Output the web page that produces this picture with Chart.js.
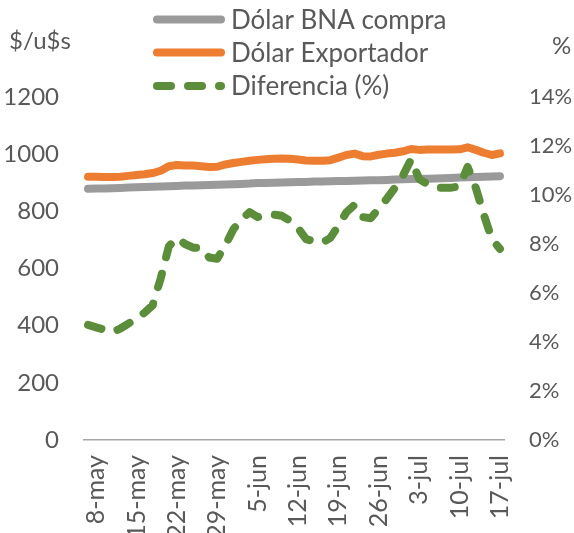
<!DOCTYPE html>
<html>
<head>
<meta charset="utf-8">
<script src="https://cdn.jsdelivr.net/npm/chart.js@4"></script>
<style>
  body { margin: 0; background: #fff; }
  canvas { display: block; }
</style>
</head>
<body>
<canvas id="chart" width="574" height="533"></canvas>
<script>
const dates = ['7-may','8-may','9-may','10-may','13-may','14-may','15-may','16-may','17-may','20-may','21-may','22-may','23-may','24-may','27-may','28-may','29-may','30-may','31-may',
  '3-jun','4-jun','5-jun','6-jun','7-jun','10-jun','11-jun','12-jun','13-jun','14-jun','17-jun','18-jun','19-jun','20-jun','21-jun','24-jun','25-jun','26-jun','27-jun','28-jun',
  '1-jul','2-jul','3-jul','4-jul','5-jul','8-jul','9-jul','10-jul','11-jul','12-jul','15-jul','16-jul','17-jul'];

const tickLabels = ['8-may','15-may','22-may','29-may','5-jun','12-jun','19-jun','26-jun','3-jul','10-jul','17-jul'];

const bnaCompra = [879,880,880,881,882,883,884,885,886,887,888,889,890,890,891,892,893,894,895,
  896,897,899,899,900,901,902,903,903,904,904,905,906,906,907,908,909,909,910,911,
  912,913,914,914,915,916,917,918,919,920,921,922,923];

const exportador = [921,921,920,920,921,924,927,930,934,942,958,962,960,960,958,955,956,964,969,
  973,977,980,982,984,985,984,981,978,977,977,979,988,997,1002,993,992,998,1002,1005,
  1010,1018,1015,1016,1016,1016,1016,1017,1024,1015,1005,997,1003];

const diferencia = [4.7,4.6,4.5,4.4,4.55,4.75,4.95,5.2,5.5,6.6,7.9,8.25,8.0,7.85,7.85,7.45,7.4,7.95,8.6,
  9.0,9.3,9.1,9.2,9.2,9.15,8.95,8.65,8.2,8.1,8.05,8.25,8.75,9.3,9.6,9.1,9.05,9.45,9.85,10.3,
  10.8,11.45,10.65,10.45,10.3,10.3,10.3,10.35,11.15,10.3,9.2,8.2,7.8];

const FONT = 'Lato';
const TEXT = '#595959';
const GRAY = '#9a9a9a';
const ORANGE = '#ED7D31';
const GREEN = '#5b8d3a';
const DASH = [14, 17];

// legend stacked on top + horizontal axis titles
const extras = {
  id: 'extras',
  afterDraw(chart) {
    const ctx = chart.ctx;
    ctx.save();
    ctx.font = '24px ' + FONT;
    ctx.fillStyle = TEXT;
    ctx.textBaseline = 'middle';
    ctx.textAlign = 'left';
    ctx.fillText('$/u$s', 9, 41);
    ctx.fillText('%', 552, 46);

    const rows = [
      { text: 'Dólar BNA compra', color: GRAY, dash: [], y: 19.5, base: 28.5 },
      { text: 'Dólar Exportador', color: ORANGE, dash: [], y: 52.5, base: 61.5 },
      { text: 'Diferencia (%)', color: GREEN, dash: DASH, y: 86, base: 94.5 }
    ];
    ctx.font = '26px ' + FONT;
    rows.forEach(r => {
      ctx.beginPath();
      ctx.strokeStyle = r.color;
      ctx.lineWidth = 8;
      ctx.lineCap = 'round';
      ctx.setLineDash(r.dash);
      ctx.moveTo(157, r.y);
      ctx.lineTo(221, r.y);
      ctx.stroke();
      ctx.setLineDash([]);
      ctx.textBaseline = 'alphabetic';
      ctx.fillText(r.text, 231, r.base);
    });
    ctx.restore();
  }
};

new Chart(document.getElementById('chart'), {
  type: 'line',
  data: {
    labels: dates,
    datasets: [
      {
        label: 'Dólar BNA compra',
        data: bnaCompra,
        yAxisID: 'y',
        borderColor: GRAY,
        borderWidth: 8,
        borderCapStyle: 'round',
        borderJoinStyle: 'round',
        pointRadius: 0,
        tension: 0,
        order: 2
      },
      {
        label: 'Dólar Exportador',
        data: exportador,
        yAxisID: 'y',
        borderColor: ORANGE,
        borderWidth: 8,
        borderCapStyle: 'round',
        borderJoinStyle: 'round',
        pointRadius: 0,
        tension: 0,
        order: 1
      },
      {
        label: 'Diferencia (%)',
        data: diferencia,
        yAxisID: 'y1',
        borderColor: GREEN,
        borderWidth: 8,
        borderDash: DASH,
        borderCapStyle: 'round',
        borderJoinStyle: 'round',
        pointRadius: 0,
        tension: 0,
        order: 0
      }
    ]
  },
  options: {
    responsive: false,
    animation: false,
    layout: { padding: { top: 97, left: 0, right: 0, bottom: 0 } },
    plugins: {
      legend: { display: false },
      tooltip: { enabled: false }
    },
    scales: {
      x: {
        type: 'category',
        offset: true,
        grid: { display: false, drawTicks: false },
        border: { display: true, color: '#a6a6a6', width: 1.5 },
        ticks: {
          autoSkip: false,
          maxRotation: 90,
          minRotation: 90,
          padding: 15,
          color: TEXT,
          font: { family: FONT, size: 25 },
          callback: function (v, i) {
            const d = dates[i];
            return tickLabels.includes(d) ? d : '';
          }
        },
        afterFit(scale) { scale.height = 93; }
      },
      y: {
        position: 'left',
        min: 0,
        max: 1200,
        grid: { display: false, drawTicks: false },
        border: { display: false },
        ticks: {
          stepSize: 200,
          padding: 25,
          color: TEXT,
          font: { family: FONT, size: 24 },
          callback: v => String(v)
        },
        afterFit(scale) { scale.width = 84; }
      },
      y1: {
        position: 'right',
        min: 0,
        max: 14,
        grid: { display: false, drawTicks: false },
        border: { display: false },
        ticks: {
          stepSize: 2,
          padding: 25,
          color: TEXT,
          font: { family: FONT, size: 22 },
          callback: v => v + '%'
        },
        afterFit(scale) { scale.width = 70; }
      }
    }
  },
  plugins: [extras]
});
</script>
</body>
</html>
